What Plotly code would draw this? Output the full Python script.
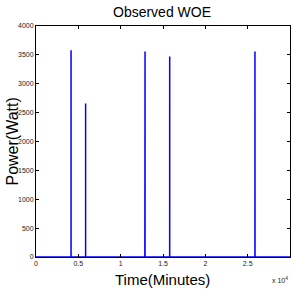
import plotly.graph_objects as go

# Data (time in minutes, power in watts)
time_min = [0, 4139, 4140, 4141, 5859, 5860, 5861, 12859, 12860, 12880, 12881,
            15789, 15790, 15791, 25859, 25860, 25861, 25869, 25870, 25871, 30000]
power_w = [0, 0, 3580, 0, 0, 2660, 0, 0, 3560, 3560, 0,
           0, 3470, 0, 0, 3560, 0, 0, 2600, 0, 0]

x_tickvals = [0, 5000, 10000, 15000, 20000, 25000, 30000]
x_ticktext = ["0", "0.5", "1", "1.5", "2", "2.5", "3"]
y_tickvals = [0, 500, 1000, 1500, 2000, 2500, 3000, 3500, 4000]

narrow = "Liberation Sans Narrow, Liberation Sans, Arial"
tickfont = dict(family=narrow, size=7, color="#222")

fig = go.Figure()
fig.add_trace(go.Scatter(x=time_min, y=power_w, mode="lines",
                         line=dict(color="#0000ff", width=1.5), showlegend=False))

axis_common = dict(showgrid=False, zeroline=False, showline=True, linecolor="black",
                   linewidth=1, mirror="ticks", ticks="inside", ticklen=3,
                   tickcolor="black", tickfont=tickfont, automargin=False)

fig.update_layout(
    width=291, height=291,
    margin=dict(l=36, r=1, t=26, b=34),
    paper_bgcolor="white", plot_bgcolor="white",
    xaxis=dict(range=[0, 30000], tickvals=x_tickvals, ticktext=x_ticktext, **axis_common),
    yaxis=dict(range=[0, 4000], tickvals=y_tickvals, **axis_common),
    annotations=[
        dict(text="Observed WOE", xref="paper", yref="paper", x=0.497, y=1.0, yshift=14,
             xanchor="center", yanchor="middle", showarrow=False,
             font=dict(family=narrow, size=14, color="black")),
        dict(text="Time(Minutes)", xref="paper", yref="paper", x=0.497, y=0.0, yshift=-22,
             xanchor="center", yanchor="middle", showarrow=False,
             font=dict(family=narrow, size=15, color="black")),
        dict(text="Power(Watt)", xref="paper", yref="paper", x=0.0, xshift=-24, y=0.5,
             xanchor="center", yanchor="middle", showarrow=False, textangle=-90,
             font=dict(family="Liberation Sans, Arial", size=16, color="black")),
        dict(text="x 10<sup>4</sup>", xref="paper", yref="paper", x=1.0, y=0.0, yshift=-17,
             xanchor="right", yanchor="top", showarrow=False,
             font=dict(family=narrow, size=7, color="#222")),
    ]
)

fig.write_html("out.html", config={"displayModeBar": False},
               post_script="document.body.style.margin='0';")
